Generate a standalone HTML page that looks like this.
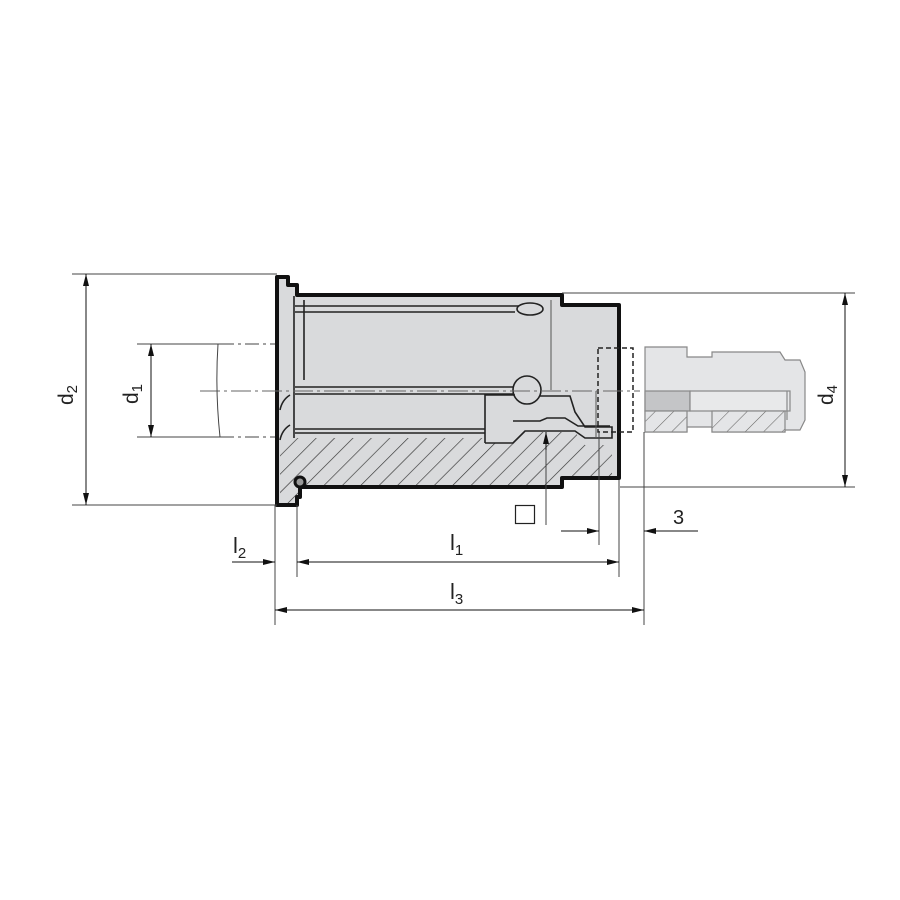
<!DOCTYPE html>
<html><head><meta charset="utf-8"><style>
html,body{margin:0;padding:0;background:#fff;}
svg{display:block;}
text{font-family:"Liberation Sans",sans-serif;fill:#222;}
</style></head><body>
<svg width="900" height="900" viewBox="0 0 900 900" xmlns="http://www.w3.org/2000/svg">
<defs>
<pattern id="h" patternUnits="userSpaceOnUse" width="13" height="13" patternTransform="rotate(45)">
<rect width="13" height="13" fill="#d9dadc"/><line x1="0" y1="0" x2="0" y2="13" stroke="#333" stroke-width="1.3"/>
</pattern>
<pattern id="h2" patternUnits="userSpaceOnUse" width="13" height="13" patternTransform="rotate(45)">
<rect width="13" height="13" fill="#e4e5e7"/><line x1="0" y1="0" x2="0" y2="13" stroke="#666" stroke-width="1.1"/>
</pattern>
<marker id="a" viewBox="0 0 12 6" refX="12" refY="3" markerWidth="12" markerHeight="6" orient="auto-start-reverse" markerUnits="userSpaceOnUse"><path d="M0,0L12,3L0,6z" fill="#111"/></marker>
</defs>

<g stroke="#888" stroke-width="1.2" fill="#e4e5e7">
<path d="M645,347 H687 V357 H712 V352 H780 L785,360 H800 L805,372 V420 L800,430 H785 V432 H712 V427 H687 V432 H645 Z"/>
<rect x="645" y="391" width="45" height="20" fill="#c4c5c7"/>
<rect x="690" y="391" width="100" height="20" fill="#e8e9ea"/>
<rect x="645" y="411" width="42" height="21" fill="url(#h2)"/>
<rect x="712" y="411" width="73" height="21" fill="url(#h2)"/>
<line x1="787" y1="391" x2="787" y2="420"/>
</g>

<path d="M277,277 H288 V285 H297 V295 H562 V305 H619 V478 H562 V487 H300 V497 H297 V505 H277 Z" fill="#d9dadc"/>
<path d="M280,438 H485 V443 H513 L525,432 H555 L575,432 L585,445 H612 V478 H562 V487 H300 V497 H297 V505 H280 Z" fill="url(#h)"/>
<path d="M277,277 H288 V285 H297 V295 H562 V305 H619 V478 H562 V487 H300 V497 H297 V505 H277 Z" fill="none" stroke="#111" stroke-width="4" stroke-linejoin="round"/>
<circle cx="300" cy="482" r="5" fill="#999" stroke="#111" stroke-width="3"/>

<g stroke="#222" stroke-width="1.6" fill="none">
<line x1="294" y1="296" x2="294" y2="438"/>
<line x1="304" y1="300" x2="304" y2="380"/>
<line x1="295" y1="306" x2="520" y2="306"/>
<line x1="295" y1="312" x2="515" y2="312"/>
<ellipse cx="530" cy="309" rx="13" ry="6" fill="#d9dadc"/>
<line x1="295" y1="387" x2="515" y2="387"/>
<line x1="295" y1="394" x2="515" y2="394"/>
<circle cx="527" cy="390" r="14" fill="#d9dadc"/>
<line x1="295" y1="429" x2="485" y2="429"/>
<line x1="295" y1="433" x2="485" y2="433"/>
<path d="M485,443 V395 H515"/>
<path d="M540,396 H570 L575,412 L585,427 H612 V438 H585 L575,431 H525 L513,443 H485"/>
<path d="M513,421 H540 L547,418 L565,418 L578,426 H610"/>
<path d="M290,395 Q282,400 280,410"/>
<path d="M290,425 Q282,430 280,440"/>
</g>
<line x1="551" y1="300" x2="551" y2="390" stroke="#555" stroke-width="1"/>
<line x1="596" y1="391" x2="596" y2="438" stroke="#555" stroke-width="1"/>

<rect x="598" y="348" width="35" height="84" fill="none" stroke="#222" stroke-width="1.5" stroke-dasharray="5,3"/>
<line x1="200" y1="391" x2="640" y2="391" stroke="#666" stroke-width="1" stroke-dasharray="20,4,3,4"/>

<g stroke="#444" stroke-width="1" fill="none">
<line x1="72" y1="274" x2="277" y2="274"/>
<line x1="72" y1="505" x2="277" y2="505"/>
<line x1="137" y1="344" x2="220" y2="344"/>
<line x1="220" y1="344" x2="275" y2="344" stroke-dasharray="14,4,3,4"/>
<line x1="137" y1="437" x2="220" y2="437"/>
<line x1="220" y1="437" x2="275" y2="437" stroke-dasharray="14,4,3,4"/>
<path d="M218,344 Q215,390 220,437"/>
<line x1="562" y1="293" x2="855" y2="293"/>
<line x1="620" y1="487" x2="855" y2="487"/>
<line x1="275" y1="505" x2="275" y2="625"/>
<line x1="297" y1="505" x2="297" y2="577"/>
<line x1="619" y1="480" x2="619" y2="577"/>
<line x1="644" y1="432" x2="644" y2="625"/>
<line x1="599" y1="432" x2="599" y2="545"/>
<line x1="546" y1="440" x2="546" y2="525"/>
</g>
<g stroke="#111" stroke-width="1">
<line x1="86" y1="274" x2="86" y2="505" marker-start="url(#a)" marker-end="url(#a)"/>
<line x1="151" y1="344" x2="151" y2="437" marker-start="url(#a)" marker-end="url(#a)"/>
<line x1="845" y1="293" x2="845" y2="487" marker-start="url(#a)" marker-end="url(#a)"/>
<line x1="297" y1="562" x2="619" y2="562" marker-start="url(#a)" marker-end="url(#a)"/>
<line x1="232" y1="562" x2="275" y2="562" marker-end="url(#a)"/>
<line x1="275" y1="610" x2="644" y2="610" marker-start="url(#a)" marker-end="url(#a)"/>
<line x1="561" y1="531" x2="599" y2="531" marker-end="url(#a)"/>
<line x1="698" y1="531" x2="644" y2="531" marker-end="url(#a)"/>
<line x1="546" y1="450" x2="546" y2="432" marker-end="url(#a)"/>
</g>
<rect x="515.5" y="505.5" width="19" height="18" fill="none" stroke="#222" stroke-width="1.2"/>

<text transform="translate(73,405) rotate(-90)" font-size="21">d<tspan font-size="15" dy="4">2</tspan></text>
<text transform="translate(138,404) rotate(-90)" font-size="21">d<tspan font-size="15" dy="4">1</tspan></text>
<text transform="translate(833,405) rotate(-90)" font-size="21">d<tspan font-size="15" dy="4">4</tspan></text>
<text x="233" y="553" font-size="22">l<tspan font-size="15" dy="5">2</tspan></text>
<text x="450" y="550" font-size="22">l<tspan font-size="15" dy="5">1</tspan></text>
<text x="450" y="599" font-size="22">l<tspan font-size="15" dy="5">3</tspan></text>
<text x="673" y="524" font-size="20">3</text>
</svg>
</body></html>
